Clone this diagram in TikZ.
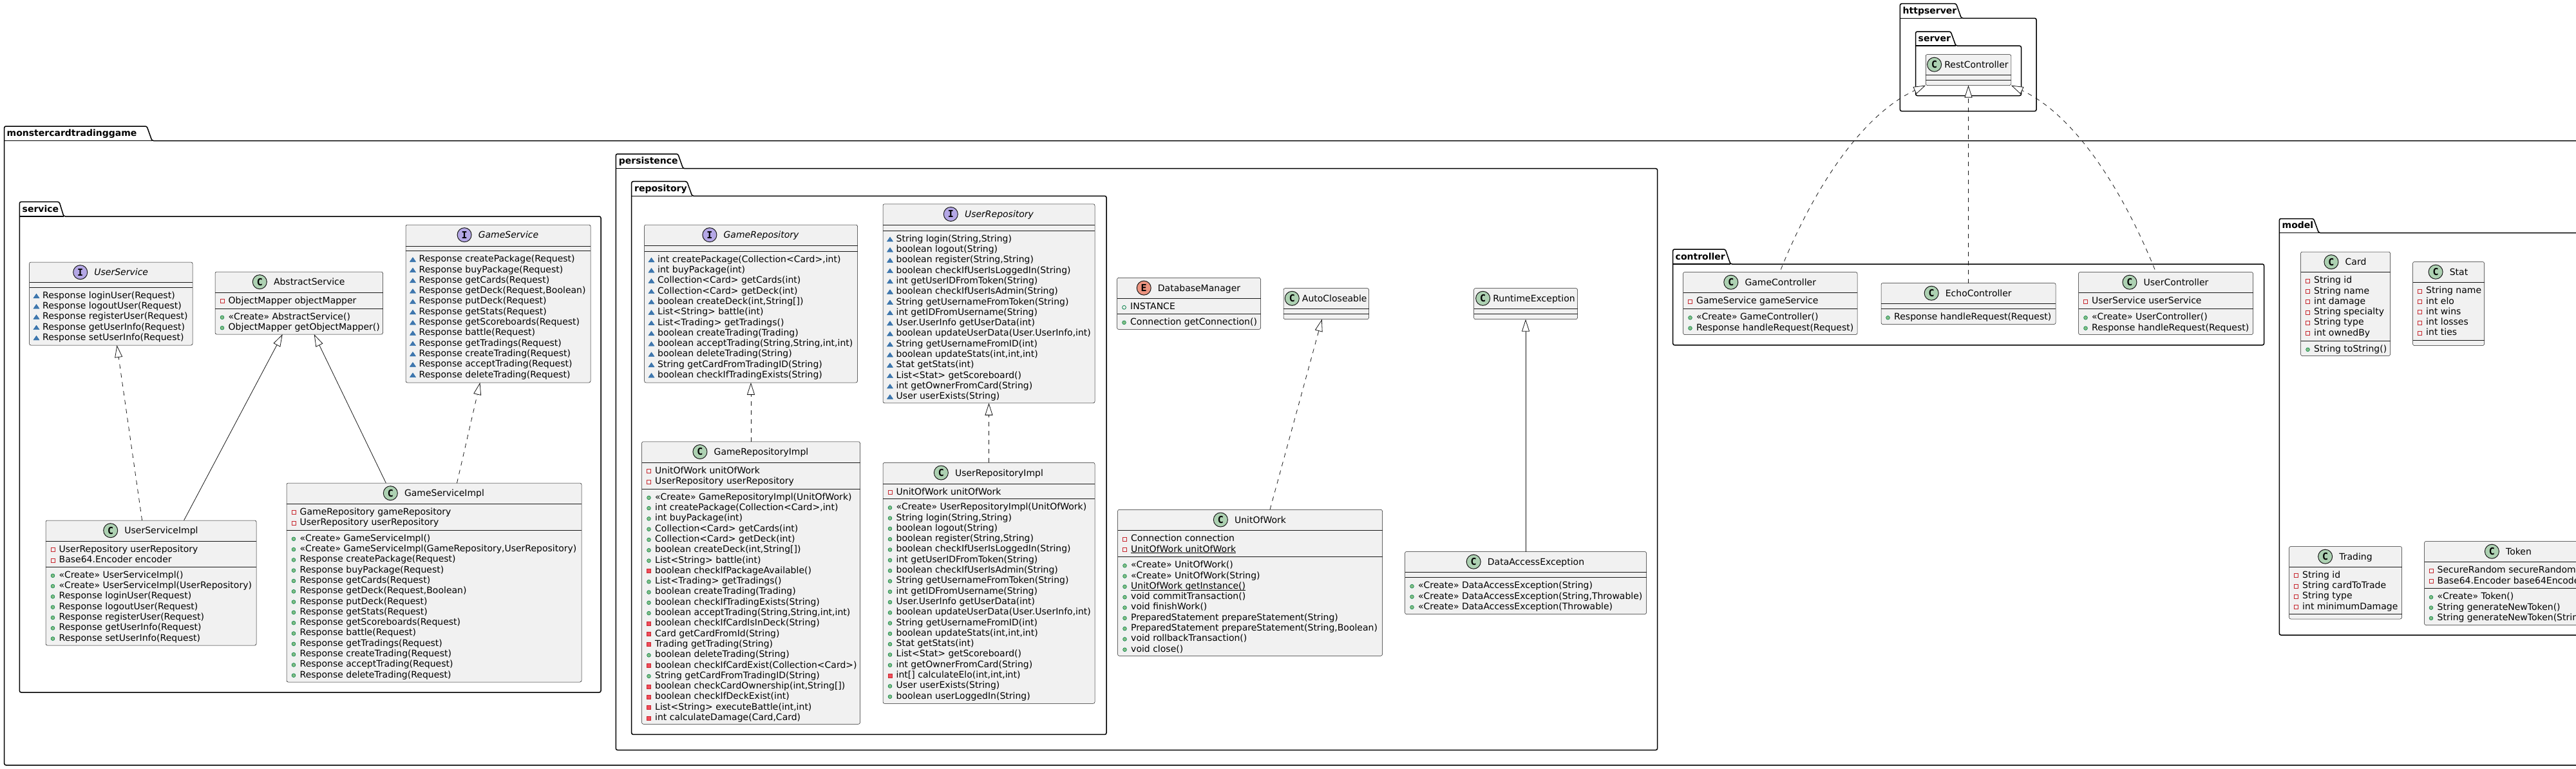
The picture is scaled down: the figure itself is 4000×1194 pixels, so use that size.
\documentclass[tikz,border=0pt]{standalone}
\usepackage{fontspec}
\setmainfont{DejaVu Sans}
\newfontfamily\spotfont{DejaVu Sans Mono}
\usetikzlibrary{positioning,arrows.meta}

\definecolor{boxfill}{HTML}{F1F1F1}
\definecolor{boxline}{HTML}{181818}
\definecolor{spotC}{HTML}{ADD1B2}
\definecolor{spotI}{HTML}{B4A7E5}
\definecolor{spotE}{HTML}{EB937F}
\definecolor{pubfill}{HTML}{84BE84}
\definecolor{publine}{HTML}{038048}
\definecolor{prvfill}{HTML}{F24D5C}
\definecolor{prvline}{HTML}{C82930}
\definecolor{pkgfill}{HTML}{4177AF}
\definecolor{pkgline}{HTML}{1963A0}

\newcommand{\RowMark}[1]{\leavevmode\vrule height 12pt depth 0pt width 0pt\tikz[baseline=0pt,overlay]{#1}}
\newcommand{\Pub}{\RowMark{\filldraw[fill=pubfill,draw=publine,line width=0.6pt] (-9.7pt,3.4pt) circle (2.9pt);}}
\newcommand{\PubF}{\RowMark{\draw[draw=publine,line width=0.8pt] (-9.7pt,3.4pt) circle (2.9pt);}}
\newcommand{\Prv}{\RowMark{\draw[draw=prvline,line width=0.8pt] (-12.7pt,0.6pt) rectangle (-6.7pt,6.6pt);}}
\newcommand{\PrvM}{\RowMark{\filldraw[fill=prvfill,draw=prvline,line width=0.8pt] (-12.7pt,0.6pt) rectangle (-6.7pt,6.6pt);}}
\newcommand{\Pkg}{\RowMark{\filldraw[fill=pkgfill,draw=pkgline,line width=0.4pt] (-14.2pt,0.4pt) -- (-5.2pt,0.4pt) -- (-9.7pt,7pt) -- cycle;}}
\newcommand{\Uln}[1]{\underline{\smash{#1}}}

\begin{document}
\begin{tikzpicture}[x=1pt,y=-1pt,font=\fontsize{14}{16.3}\selectfont]
	\tikzstyle{Pack} = [line width=1.5pt, rounded corners=2.5pt, draw=black]
	\tikzstyle{PackName} = [anchor=base west, inner sep=0pt, font=\fontsize{14}{16.3}\selectfont\bfseries]
	\tikzstyle{Box} = [rectangle, inner sep=0pt, outer sep=0pt, rounded corners=2.5pt, draw=boxline, line width=0.5pt, fill=boxfill]
	\tikzstyle{Rule} = [draw=boxline, line width=0.5pt]
	\tikzstyle{Title} = [inner sep=0pt, text height=11.5pt, text depth=1.5pt]
	\tikzstyle{Spot} = [circle, minimum size=22pt, inner sep=0pt, draw=boxline, line width=1pt, font=\fontsize{15}{15}\spotfont\bfseries]
	\tikzstyle{Rows} = [anchor=north west, inner sep=0pt, align=left]
	\tikzstyle{Ext} = [line width=0.8pt, draw=boxline, -{Triangle[open,length=19pt,width=12pt,fill=white]}]
	\tikzstyle{Impl} = [Ext, dash pattern=on 7pt off 7pt]

	\useasboundingbox (0,0) rectangle (4000,1194);
	\clip (0,0) rectangle (4000,1194);
	\fill [white] (0,0) rectangle (4000,1194);

	\draw [Pack] (6.7,196) -- (228,196) -- (236,218.5) -- (4066,218.5) -- (4066,1188) -- (6.7,1188) -- cycle;
	\draw [Pack] (6.7,218.5) -- (236,218.5);
	\node (pkgMonster) [PackName] at (10.5,211.5) {monstercardtradinggame};

	\draw [Pack] (30.3,313.4) -- (92,313.4) -- (99,336) -- (933,336) -- (933,1075) -- (30.3,1075) -- cycle;
	\draw [Pack] (30.3,336) -- (99,336);
	\node (pkgService) [PackName] at (34.5,329) {service};

	\draw [Pack] (956.3,239) -- (1052.7,239) -- (1060.7,261.7) -- (2573.6,261.7) -- (2573.6,1164.5) -- (956.3,1164.5) -- cycle;
	\draw [Pack] (956.3,261.7) -- (1060.7,261.7);
	\node (pkgPersistence) [PackName] at (960.7,254.7) {persistence};

	\draw [Pack] (980.7,281.7) -- (1066.7,281.7) -- (1074.7,304.3) -- (1718,304.3) -- (1718,1140.4) -- (980.7,1140.4) -- cycle;
	\draw [Pack] (980.7,304.3) -- (1074.7,304.3);
	\node (pkgRepository) [PackName] at (985,297.3) {repository};

	\draw [Pack] (2597.7,387) -- (2679,387) -- (2687,410) -- (3515.5,410) -- (3515.5,535.8) -- (2597.7,535.8) -- cycle;
	\draw [Pack] (2597.7,410) -- (2687,410);
	\node (pkgController) [PackName] at (2601.5,403) {controller};

	\draw [Pack] (3539.3,339.5) -- (3592.5,339.5) -- (3600.5,361.6) -- (4042,361.6) -- (4042,986) -- (3539.3,986) -- cycle;
	\draw [Pack] (3539.3,361.6) -- (3600.5,361.6);
	\node (pkgModel) [PackName] at (3543.5,354.6) {model};

	\draw [Pack] (2950.4,5.7) -- (3037.5,5.7) -- (3045.5,28.3) -- (3162,28.3) -- (3162,172.6) -- (2950.4,172.6) -- cycle;
	\draw [Pack] (2950.4,28.3) -- (3045.5,28.3);
	\node (pkgHttpserver) [PackName] at (2954.5,21.3) {httpserver};

	\draw [Pack] (2974.6,49) -- (3029,49) -- (3037,71.2) -- (3138.5,71.2) -- (3138.5,148.5) -- (2974.6,148.5) -- cycle;
	\draw [Pack] (2974.6,71.2) -- (3037,71.2);
	\node (pkgServer) [PackName] at (2978.5,64.2) {server};

	\node (us) [Box, minimum width=253.5pt, minimum height=129pt] at (172.25,471.5) {};
	\node (usName) [Title] at (188.25,422.7) {\itshape UserService};
	\node (usSpot) [Spot, fill=spotI, left=10pt of usName] {I};
	\draw [Rule] (45.5,438.5) -- (299,438.5) (45.5,446) -- (299,446);
	\node (usOps) [Rows] at (66,451) {\Pkg Response loginUser(Request)\\\Pkg Response logoutUser(Request)\\\Pkg Response registerUser(Request)\\\Pkg Response getUserInfo(Request)\\\Pkg Response setUserInfo(Request)};

	\node (as) [Box, minimum width=260.5pt, minimum height=97pt] at (464.25,470.5) {};
	\node (asName) [Title] at (480.25,437.7) {AbstractService};
	\node (asSpot) [Spot, fill=spotC, left=10pt of asName] {C};
	\draw [Rule] (334,454) -- (594.5,454) (334,479) -- (594.5,479);
	\node (asFields) [Rows] at (354.5,459) {\Prv ObjectMapper objectMapper};
	\node (asOps) [Rows] at (354.5,484) {\Pub «Create» AbstractService()\\\Pub ObjectMapper getObjectMapper()};

	\node (gs) [Box, minimum width=287pt, minimum height=245pt] at (773.5,471.5) {};
	\node (gsName) [Title] at (789.5,364.7) {\itshape GameService};
	\node (gsSpot) [Spot, fill=spotI, left=10pt of gsName] {I};
	\draw [Rule] (630,382) -- (917,382) (630,389.5) -- (917,389.5);
	\node (gsOps) [Rows] at (650.5,394.5) {\Pkg Response createPackage(Request)\\\Pkg Response buyPackage(Request)\\\Pkg Response getCards(Request)\\\Pkg Response getDeck(Request,Boolean)\\\Pkg Response putDeck(Request)\\\Pkg Response getStats(Request)\\\Pkg Response getScoreboards(Request)\\\Pkg Response battle(Request)\\\Pkg Response getTradings(Request)\\\Pkg Response createTrading(Request)\\\Pkg Response acceptTrading(Request)\\\Pkg Response deleteTrading(Request)};

	\node (usi) [Box, minimum width=327pt, minimum height=194pt] at (234.5,905) {};
	\node (usiName) [Title] at (250.5,823.7) {UserServiceImpl};
	\node (usiSpot) [Spot, fill=spotC, left=10pt of usiName] {C};
	\draw [Rule] (71,840) -- (398,840) (71,880) -- (398,880);
	\node (usiFields) [Rows] at (91.5,845) {\Prv UserRepository userRepository\\\Prv Base64.Encoder encoder};
	\node (usiOps) [Rows] at (91.5,885) {\Pub «Create» UserServiceImpl()\\\Pub «Create» UserServiceImpl(UserRepository)\\\Pub Response loginUser(Request)\\\Pub Response logoutUser(Request)\\\Pub Response registerUser(Request)\\\Pub Response getUserInfo(Request)\\\Pub Response setUserInfo(Request)};

	\node (gsi) [Box, minimum width=458pt, minimum height=309pt] at (674,904.5) {};
	\node (gsiName) [Title] at (690,765.7) {GameServiceImpl};
	\node (gsiSpot) [Spot, fill=spotC, left=10pt of gsiName] {C};
	\draw [Rule] (445,782) -- (903,782) (445,823) -- (903,823);
	\node (gsiFields) [Rows] at (465.5,787) {\Prv GameRepository gameRepository\\\Prv UserRepository userRepository};
	\node (gsiOps) [Rows] at (465.5,828) {\Pub «Create» GameServiceImpl()\\\Pub «Create» GameServiceImpl(GameRepository,UserRepository)\\\Pub Response createPackage(Request)\\\Pub Response buyPackage(Request)\\\Pub Response getCards(Request)\\\Pub Response getDeck(Request,Boolean)\\\Pub Response putDeck(Request)\\\Pub Response getStats(Request)\\\Pub Response getScoreboards(Request)\\\Pub Response battle(Request)\\\Pub Response getTradings(Request)\\\Pub Response createTrading(Request)\\\Pub Response acceptTrading(Request)\\\Pub Response deleteTrading(Request)};

	\node (gr) [Box, minimum width=331pt, minimum height=245pt] at (1166,471.5) {};
	\node (grName) [Title] at (1182,364.7) {\itshape GameRepository};
	\node (grSpot) [Spot, fill=spotI, left=10pt of grName] {I};
	\draw [Rule] (1000.5,381.5) -- (1331.5,381.5) (1000.5,390) -- (1331.5,390);
	\node (grOps) [Rows] at (1021,395) {\Pkg int createPackage(Collection<Card>,int)\\\Pkg int buyPackage(int)\\\Pkg Collection<Card> getCards(int)\\\Pkg Collection<Card> getDeck(int)\\\Pkg boolean createDeck(int,String[])\\\Pkg List<String> battle(int)\\\Pkg List<Trading> getTradings()\\\Pkg boolean createTrading(Trading)\\\Pkg boolean acceptTrading(String,String,int,int)\\\Pkg boolean deleteTrading(String)\\\Pkg String getCardFromTradingID(String)\\\Pkg boolean checkIfTradingExists(String)};

	\node (ur) [Box, minimum width=329pt, minimum height=309pt] at (1535.5,471.25) {};
	\node (urName) [Title] at (1551.5,332.5) {\itshape UserRepository};
	\node (urSpot) [Spot, fill=spotI, left=10pt of urName] {I};
	\draw [Rule] (1371,349.5) -- (1700,349.5) (1371,358) -- (1700,358);
	\node (urOps) [Rows] at (1391.5,363) {\Pkg String login(String,String)\\\Pkg boolean logout(String)\\\Pkg boolean register(String,String)\\\Pkg boolean checkIfUserIsLoggedIn(String)\\\Pkg int getUserIDFromToken(String)\\\Pkg boolean checkIfUserIsAdmin(String)\\\Pkg String getUsernameFromToken(String)\\\Pkg int getIDFromUsername(String)\\\Pkg User.UserInfo getUserData(int)\\\Pkg boolean updateUserData(User.UserInfo,int)\\\Pkg String getUsernameFromID(int)\\\Pkg boolean updateStats(int,int,int)\\\Pkg Stat getStats(int)\\\Pkg List<Stat> getScoreboard()\\\Pkg int getOwnerFromCard(String)\\\Pkg User userExists(String)};

	\node (gri) [Box, minimum width=339pt, minimum height=438.5pt] at (1166,905) {};
	\node (griName) [Title] at (1182,701.5) {GameRepositoryImpl};
	\node (griSpot) [Spot, fill=spotC, left=10pt of griName] {C};
	\draw [Rule] (996.5,718) -- (1335.5,718) (996.5,759) -- (1335.5,759);
	\node (griFields) [Rows] at (1017,723) {\Prv UnitOfWork unitOfWork\\\Prv UserRepository userRepository};
	\node (griOps) [Rows] at (1017,764) {\Pub «Create» GameRepositoryImpl(UnitOfWork)\\\Pub int createPackage(Collection<Card>,int)\\\Pub int buyPackage(int)\\\Pub Collection<Card> getCards(int)\\\Pub Collection<Card> getDeck(int)\\\Pub boolean createDeck(int,String[])\\\Pub List<String> battle(int)\\\PrvM boolean checkIfPackageAvailable()\\\Pub List<Trading> getTradings()\\\Pub boolean createTrading(Trading)\\\Pub boolean checkIfTradingExists(String)\\\Pub boolean acceptTrading(String,String,int,int)\\\PrvM boolean checkIfCardIsInDeck(String)\\\PrvM Card getCardFromId(String)\\\PrvM Trading getTrading(String)\\\Pub boolean deleteTrading(String)\\\PrvM boolean checkIfCardExist(Collection<Card>)\\\Pub String getCardFromTradingID(String)\\\PrvM boolean checkCardOwnership(int,String[])\\\PrvM boolean checkIfDeckExist(int)\\\PrvM List<String> executeBattle(int,int)\\\PrvM int calculateDamage(Card,Card)};

	\node (uri) [Box, minimum width=329pt, minimum height=374pt] at (1535.5,905.35) {};
	\node (uriName) [Title] at (1551.5,734) {UserRepositoryImpl};
	\node (uriSpot) [Spot, fill=spotC, left=10pt of uriName] {C};
	\draw [Rule] (1371,751) -- (1700,751) (1371,774.5) -- (1700,774.5);
	\node (uriFields) [Rows] at (1391.5,756) {\Prv UnitOfWork unitOfWork};
	\node (uriOps) [Rows] at (1391.5,779.5) {\Pub «Create» UserRepositoryImpl(UnitOfWork)\\\Pub String login(String,String)\\\Pub boolean logout(String)\\\Pub boolean register(String,String)\\\Pub boolean checkIfUserIsLoggedIn(String)\\\Pub int getUserIDFromToken(String)\\\Pub boolean checkIfUserIsAdmin(String)\\\Pub String getUsernameFromToken(String)\\\Pub int getIDFromUsername(String)\\\Pub User.UserInfo getUserData(int)\\\Pub boolean updateUserData(User.UserInfo,int)\\\Pub String getUsernameFromID(int)\\\Pub boolean updateStats(int,int,int)\\\Pub Stat getStats(int)\\\Pub List<Stat> getScoreboard()\\\Pub int getOwnerFromCard(String)\\\PrvM int[] calculateElo(int,int,int)\\\Pub User userExists(String)\\\Pub boolean userLoggedIn(String)};

	\node (dbm) [Box, minimum width=223pt, minimum height=80pt] at (1846,471.4) {};
	\node (dbmName) [Title] at (1862,447.1) {DatabaseManager};
	\node (dbmSpot) [Spot, fill=spotE, left=10pt of dbmName] {E};
	\draw [Rule] (1734.5,463.5) -- (1957.5,463.5) (1734.5,487) -- (1957.5,487);
	\node (dbmFields) [Rows] at (1755,468.5) {\PubF INSTANCE};
	\node (dbmOps) [Rows] at (1755,492) {\Pub Connection getConnection()};

	\node (ac) [Box, minimum width=132.5pt, minimum height=48pt] at (2059.25,471.65) {};
	\node (acName) [Title] at (2072.25,463.3) {AutoCloseable};
	\node (acSpot) [Spot, fill=spotC, left=4pt of acName] {C};
	\draw [Rule] (1993,479.5) -- (2125.5,479.5) (1993,487.5) -- (2125.5,487.5);

	\node (re) [Box, minimum width=161pt, minimum height=48pt] at (2369,471.65) {};
	\node (reName) [Title] at (2382,463.3) {RuntimeException};
	\node (reSpot) [Spot, fill=spotC, left=4pt of reName] {C};
	\draw [Rule] (2288.5,479.5) -- (2449.5,479.5) (2288.5,487.5) -- (2449.5,487.5);

	\node (uow) [Box, minimum width=411pt, minimum height=227pt] at (1941,904.8) {};
	\node (uowName) [Title] at (1957,807) {UnitOfWork};
	\node (uowSpot) [Spot, fill=spotC, left=10pt of uowName] {C};
	\draw [Rule] (1735.5,823.5) -- (2146.5,823.5) (1735.5,864.5) -- (2146.5,864.5);
	\node (uowFields) [Rows] at (1756,828.5) {\Prv Connection connection\\\Prv \Uln{UnitOfWork unitOfWork}};
	\node (uowOps) [Rows] at (1756,869.5) {\Pub «Create» UnitOfWork()\\\Pub «Create» UnitOfWork(String)\\\Pub \Uln{UnitOfWork getInstance()}\\\Pub void commitTransaction()\\\Pub void finishWork()\\\Pub PreparedStatement prepareStatement(String)\\\Pub PreparedStatement prepareStatement(String,Boolean)\\\Pub void rollbackTransaction()\\\Pub void close()};

	\node (dae) [Box, minimum width=375pt, minimum height=97pt] at (2369,905) {};
	\node (daeName) [Title] at (2385,872.2) {DataAccessException};
	\node (daeSpot) [Spot, fill=spotC, left=10pt of daeName] {C};
	\draw [Rule] (2181.5,888.5) -- (2556.5,888.5) (2181.5,896.5) -- (2556.5,896.5);
	\node (daeOps) [Rows] at (2202,901.5) {\Pub «Create» DataAccessException(String)\\\Pub «Create» DataAccessException(String,Throwable)\\\Pub «Create» DataAccessException(Throwable)};

	\node (rc) [Box, minimum width=132.5pt, minimum height=48pt] at (3056.5,108.5) {};
	\node (rcName) [Title] at (3069,100.2) {RestController};
	\node (rcSpot) [Spot, fill=spotC, left=4pt of rcName] {C};
	\draw [Rule] (2990,116) -- (3122.5,116) (2990,124) -- (3122.5,124);

	\node (gc) [Box, minimum width=270.5pt, minimum height=97pt] at (2748.75,471) {};
	\node (gcName) [Title] at (2764.75,438.2) {GameController};
	\node (gcSpot) [Spot, fill=spotC, left=10pt of gcName] {C};
	\draw [Rule] (2613.5,454.5) -- (2884,454.5) (2613.5,479.5) -- (2884,479.5);
	\node (gcFields) [Rows] at (2634,459.5) {\Prv GameService gameService};
	\node (gcOps) [Rows] at (2634,484.5) {\Pub «Create» GameController()\\\Pub Response handleRequest(Request)};

	\node (ec) [Box, minimum width=271pt, minimum height=64pt] at (3056.5,471.5) {};
	\node (ecName) [Title] at (3072.25,455.2) {EchoController};
	\node (ecSpot) [Spot, fill=spotC, left=10pt of ecName] {C};
	\draw [Rule] (2920.5,471.5) -- (3191.5,471.5) (2920.5,479.5) -- (3191.5,479.5);
	\node (ecOps) [Rows] at (2941,484.5) {\Pub Response handleRequest(Request)};

	\node (uc) [Box, minimum width=271pt, minimum height=97pt] at (3363,471) {};
	\node (ucName) [Title] at (3379,438.2) {UserController};
	\node (ucSpot) [Spot, fill=spotC, left=10pt of ucName] {C};
	\draw [Rule] (3227.5,454.5) -- (3498.5,454.5) (3227.5,479.5) -- (3498.5,479.5);
	\node (ucFields) [Rows] at (3248,459.5) {\Prv UserService userService};
	\node (ucOps) [Rows] at (3248,484.5) {\Pub «Create» UserController()\\\Pub Response handleRequest(Request)};

	\node (card) [Box, minimum width=139pt, minimum height=161.5pt] at (3642,471.75) {};
	\node (cardName) [Title] at (3658,406.7) {Card};
	\node (cardSpot) [Spot, fill=spotC, left=10pt of cardName] {C};
	\draw [Rule] (3572.5,422.5) -- (3711.5,422.5) (3572.5,529) -- (3711.5,529);
	\node (cardFields) [Rows] at (3593,427.5) {\Prv String id\\\Prv String name\\\Prv int damage\\\Prv String specialty\\\Prv String type\\\Prv int ownedBy};
	\node (cardOps) [Rows] at (3593,534) {\Pub String toString()};

	\node (stat) [Box, minimum width=111pt, minimum height=130pt] at (3802,471.5) {};
	\node (statName) [Title] at (3818,422.2) {Stat};
	\node (statSpot) [Spot, fill=spotC, left=10pt of statName] {C};
	\draw [Rule] (3746.5,438.5) -- (3857.5,438.5) (3746.5,528.5) -- (3857.5,528.5);
	\node (statFields) [Rows] at (3767,443.5) {\Prv String name\\\Prv int elo\\\Prv int wins\\\Prv int losses\\\Prv int ties};

	\node (trading) [Box, minimum width=175pt, minimum height=112.5pt] at (3642,904.75) {};
	\node (tradingName) [Title] at (3658,864.2) {Trading};
	\node (tradingSpot) [Spot, fill=spotC, left=10pt of tradingName] {C};
	\draw [Rule] (3554.5,880) -- (3729.5,880) (3554.5,953) -- (3729.5,953);
	\node (tradingFields) [Rows] at (3575,885) {\Prv String id\\\Prv String cardToTrade\\\Prv String type\\\Prv int minimumDamage};

	\node (token) [Box, minimum width=261pt, minimum height=130pt] at (3895,905.5) {};
	\node (tokenName) [Title] at (3911,856.2) {Token};
	\node (tokenSpot) [Spot, fill=spotC, left=10pt of tokenName] {C};
	\draw [Rule] (3764.5,872.5) -- (4025.5,872.5) (3764.5,913.5) -- (4025.5,913.5);
	\node (tokenFields) [Rows] at (3784.5,877.5) {\Prv SecureRandom secureRandom\\\Prv Base64.Encoder base64Encoder};
	\node (tokenOps) [Rows] at (3784.5,918.5) {\Pub «Create» Token()\\\Pub String generateNewToken()\\\Pub String generateNewToken(String)};

	\draw [Impl] (usi) -- (us);
	\draw [Ext] (usi) -- (as);
	\draw [Ext] (gsi) -- (as);
	\draw [Impl] (gsi) -- (gs);
	\draw [Impl] (gri) -- (gr);
	\draw [Impl] (uri) -- (ur);
	\draw [Impl] (uow) -- (ac);
	\draw [Ext] (dae) -- (re);
	\draw [Impl] ([xshift=16.5pt,yshift=4pt]gc.north) .. controls (2815,295) and (2890,179) .. (rc.south west);
	\draw [Impl] (ec) -- (rc);
	\draw [Impl] ([xshift=-17pt,yshift=4pt]uc.north) .. controls (3296,295) and (3222,179) .. (rc.south east);
\end{tikzpicture}
\end{document}
